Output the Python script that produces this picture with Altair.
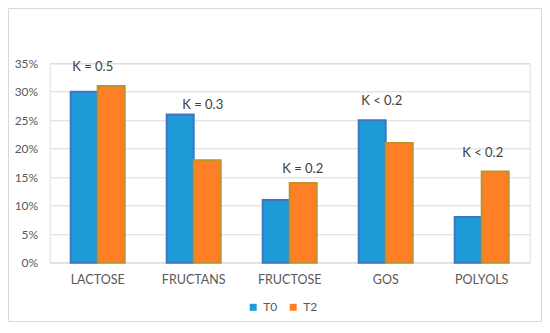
import altair as alt
import pandas as pd

categories = ["LACTOSE", "FRUCTANS", "FRUCTOSE", "GOS", "POLYOLS"]
series = ["T0", "T2"]
t0_values = [30, 26, 11, 25, 8]
t2_values = [31, 18, 14, 21, 16]
y_ticks = [0, 5, 10, 15, 20, 25, 30, 35]

k_labels = ["K = 0.5", "K = 0.3", "K = 0.2", "K < 0.2", "K < 0.2"]
k_label_at = [34.3, 27.7, 16.5, 28.4, 19.3]
k_label_dx = [-5, 9, 13, -4, 1]

body_colors = ["#1E9BD7", "#FF7F27"]
edge_colors = ["#4472C4", "#C0922B"]

FONT = "Lato"
TXT = "#595959"

rows = []
for c, a, b in zip(categories, t0_values, t2_values):
    rows.append({"category": c, "series": "T0", "value": a})
    rows.append({"category": c, "series": "T2", "value": b})
bars_df = pd.DataFrame(rows)

W, H = 480, 199.4
PAD_L, PAD_T = 41.7, 55.3
SVG_W, SVG_H = 534, 314

x_scale = alt.Scale(domain=categories, paddingInner=0.4375, paddingOuter=0.21875)
x_axis = alt.Axis(title=None, domain=False, ticks=False, labelAngle=0,
                  labelPadding=11, labelFont=FONT, labelFontSize=12.5,
                  labelColor=TXT, grid=False)
y_scale = alt.Scale(domain=[0, 35], nice=False, zero=True)
y_axis = alt.Axis(title=None, values=y_ticks, labelExpr="datum.value + '%'",
                  domain=False, ticks=False, labelPadding=12, labelFont=FONT,
                  labelFontSize=12, labelColor=TXT, grid=True,
                  gridColor="#D9D9D9", gridWidth=1, labelOverlap=False)

bars = alt.Chart(bars_df).mark_bar(strokeWidth=2).encode(
    x=alt.X("category:N", sort=categories, scale=x_scale, axis=x_axis),
    y=alt.Y("value:Q", scale=y_scale, axis=y_axis),
    xOffset=alt.XOffset("series:N", sort=series),
    color=alt.Color(
        "series:N", sort=series,
        scale=alt.Scale(domain=series, range=body_colors),
        legend=alt.Legend(title=None, orient="none", legendX=197.5, legendY=238,
                          direction="horizontal", symbolType="square",
                          symbolSize=49, symbolStrokeWidth=0,
                          labelFont=FONT, labelFontSize=12, labelColor=TXT,
                          labelOffset=4, columnPadding=9),
    ),
    stroke=alt.Stroke("series:N", sort=series,
                      scale=alt.Scale(domain=series, range=edge_colors), legend=None),
)

border = alt.Chart(pd.DataFrame({"k": [0]})).mark_rect(
    fill=None, stroke="#D9D9D9", strokeWidth=1
).encode(
    x=alt.value(0.5 - PAD_L),
    x2=alt.value(SVG_W - 0.5 - PAD_L),
    y=alt.value(0.5 - PAD_T),
    y2=alt.value(SVG_H - 0.5 - PAD_T),
)

label_layers = []
for cat, txt, at, dx in zip(categories, k_labels, k_label_at, k_label_dx):
    df = pd.DataFrame({"category": [cat], "label": [txt], "at": [at]})
    label_layers.append(
        alt.Chart(df).mark_text(font=FONT, fontSize=13, color="#404040",
                                baseline="middle", align="center", dx=dx).encode(
            x=alt.X("category:N", sort=categories, scale=x_scale, axis=x_axis),
            y=alt.Y("at:Q", scale=y_scale, axis=y_axis),
            text="label:N",
        )
    )

chart = alt.layer(border, bars, *label_layers).properties(
    width=W, height=H,
    autosize=alt.AutoSizeParams(type="none"),
    padding={"left": PAD_L, "top": PAD_T,
             "right": SVG_W - PAD_L - W, "bottom": SVG_H - PAD_T - H},
).configure_view(stroke=None).configure(background="white")

chart.save("out.html", embed_options={"renderer": "svg", "actions": False})
